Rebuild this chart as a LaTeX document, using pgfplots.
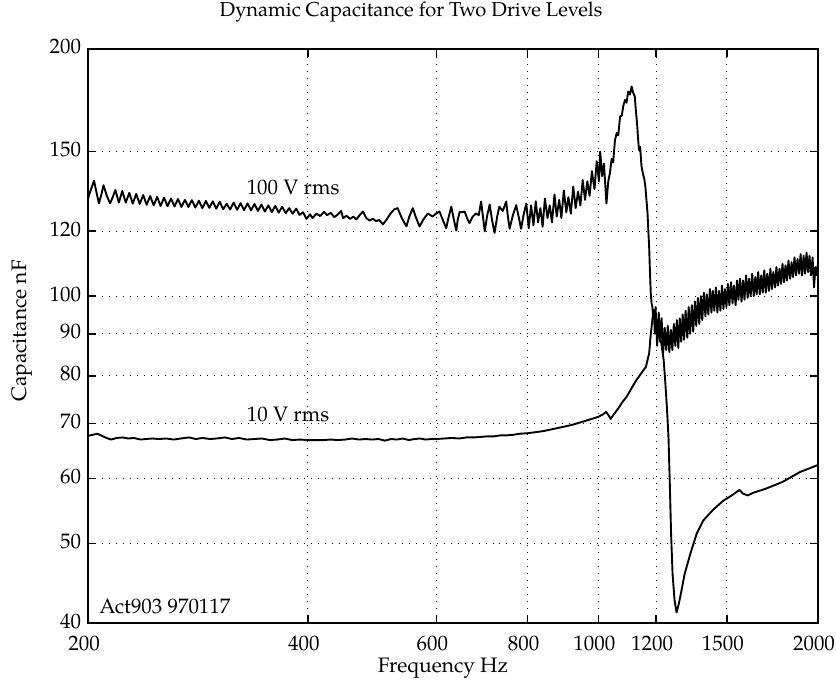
\documentclass[border=0pt]{standalone}
\usepackage{fontspec}
\setmainfont{TeX Gyre Pagella}
\usepackage{pgfplots}
\pgfplotsset{compat=1.18}
\newcommand{\lbl}{\fontsize{10.5}{12}\selectfont}
\begin{document}
\begin{tikzpicture}
\path[use as bounding box] (-44bp,-29bp) rectangle (374bp,311.5bp);
\begin{axis}[
  width=365bp, height=287bp, scale only axis,
  xmode=log, ymode=log,
  xmin=200, xmax=2000, ymin=40, ymax=200,
  xtick={200,400,600,800,1000,1200,1500,2000},
  xticklabels={200,400,600,800,1000,1200,1500,2000},
  ytick={40,50,60,70,80,90,100,120,150,200},
  yticklabels={40,50,60,70,80,90,100,120,150,200},
  minor xtick={}, minor ytick={},
  grid=major,
  major grid style={black, line width=0.5pt, dash pattern=on 0.5pt off 3pt},
  axis line style={line width=1pt},
  major tick length=4bp,
  tick style={black, line width=0.8pt},
  tick label style={font=\lbl},
  xticklabel style={xshift=-2bp, yshift=-3.2bp},
  yticklabel style={yshift=1pt},
]
% 100 V rms
\addplot[black, mark=none, line width=0.95pt, line join=round] coordinates {
(200,131.5)(201.9,135.0)(203.8,138.2)(205.5,133.5)(207.0,129.7)(208.6,133.0)(210.0,136.5)(212.2,132.5)(214.4,129.7)(216.2,132.0)(218.0,134.7)
(220.4,130.0)(222.8,134.3)(225.3,130.0)(227.8,133.6)(230.3,129.6)(232.8,133.2)(235.4,129.5)(238.0,132.8)(240.6,129.2)(243.3,132.4)
(246.0,129.0)(248.7,132.1)(251.4,128.8)(254.2,131.8)(257.0,128.7)(259.8,131.5)(262.7,128.6)(265.6,131.3)(268.5,128.4)(271.5,131.0)
(274.5,128.4)(277.5,130.9)(280.6,128.2)(283.7,130.7)(286.8,128.0)(290.0,130.6)(293.2,128.1)(296.4,130.5)(299.7,127.8)(303.0,130.3)
(306.3,127.6)(309.7,129.6)(313.1,127.5)(316.6,130.0)(320.1,127.4)(323.6,129.8)(327.2,127.3)(330.8,129.7)(334.4,127.2)(338.1,129.5)
(341.8,127.0)(345.6,129.3)(349.4,126.8)(353.2,129.0)(357.1,126.6)(361.0,128.8)(365.0,126.4)(369.0,128.5)(373.1,126.2)(377.2,128.0)
(381.4,126.0)(385.6,127.8)(389.8,125.6)(394.1,126.5)(398.5,124.2)(402.9,125.8)
(406,124.5)(411,126.0)(416,125.2)(421,126.7)(425,125.5)(430,126.3)(435,124.8)(440,125.8)(444.4,127.0)(447,124.5)
(452,125.3)(457,124.2)(462,125.0)(466,124.0)(471,125.5)(476,126.8)(481,124.5)(486,123.6)(491,124.3)(496,123.4)
(501,123.8)(507,122.3)(513,124.0)(519,126.0)(525,127.5)(531,128.0)(538,124.5)(546,121.6)(551,125.0)(557,128.0)
(563,124.5)(569,121.6)(576,124.0)(584,126.1)(593,125.0)(599,126.0)(606,126.8)(612,124.0)(619,121.0)(624,125.0)
(629,128.5)(634,124.0)(639,120.2)(642,124.0)(646,126.7)(651,126.5)(656,126.8)(661,124.5)(666,122.7)(673,125.0)
(680,126.1)(686,125.5)(691,130.4)(695,125.0)(699,119.9)(704,125.0)(710,129.3)(715,124.0)(721,119.4)(727,125.0)
(732,128.5)(740,127.0)(748,130.4)(752,125.0)(756,120.8)(764,125.5)(772,129.1)(778,125.0)(784,120.8)(790,125.5)
(797,129.7)
(803,121.0)(809,129.0)(815,122.0)(821,130.5)(827,123.0)(833,128.0)(839,121.5)(845,131.5)(852,124.5)(858,129.0)
(864,123.0)(871,133.0)(877,125.0)(884,131.0)(890,124.5)(897,134.5)(904,126.5)(910,132.0)(917,126.0)(924,136.0)
(931,128.0)(938,134.0)(945,129.0)(952,138.5)(959,131.0)(966,138.0)(973,132.5)(980,142.0)(988,135.0)(995,146.0)
(1002,138.0)(1006,150.0)(1012,140.0)(1018,145.0)(1026,129.7)(1032,138.0)(1037,141.0)(1043,147.0)(1048,145.5)(1054,154.9)
(1060,158.0)(1065,157.0)(1071,165.4)(1077,166.0)(1082,170.5)(1088,173.4)(1093,172.0)(1099,177.5)(1105,176.0)(1111,180.0)
(1116,177.0)(1122,175.0)(1126,168.0)(1130,162.4)(1134,155.0)(1137,150.6)(1141,152.0)(1146,144.0)(1151,141.0)(1156,139.0)
(1160,136.0)(1164,131.0)(1168,126.1)(1171,120.0)(1174,114.8)(1177,107.0)(1180,100.8)(1183,98.0)(1186,97.1)(1189,94.0)
(1192,96.0)(1195,90.0)
(1198,97.0)(1204,87.0)(1210,95.5)(1215,88.0)(1221,94.0)(1227,85.3)(1233,91.5)(1239,86.0)(1245,92.0)(1251,85.5)
(1257,91.0)(1263,86.0)(1269,92.5)(1275,87.0)(1281,93.5)(1287,86.5)(1293,94.0)(1299,88.0)(1305,95.0)(1311,88.5)
(1317,96.0)(1324,89.0)(1330,97.0)(1336,90.0)(1343,97.5)(1349,90.5)(1356,98.5)(1362,92.0)(1369,99.5)(1375,92.5)
(1382,100.0)(1388,93.5)(1395,101.0)(1402,94.5)(1408,100.5)(1415,95.0)(1422,102.0)(1429,95.5)(1435,101.5)(1442,96.0)
(1449,102.5)(1456,95.5)(1463,101.5)(1470,96.0)(1477,103.0)(1484,96.5)(1491,102.0)(1498,97.0)(1505,103.5)(1512,97.5)
(1520,104.0)(1527,98.0)(1534,103.0)(1542,97.5)(1549,104.5)(1556,99.0)(1564,105.0)(1571,98.5)(1579,104.5)(1586,99.0)
(1594,106.0)(1602,99.5)(1609,105.0)(1617,100.0)(1625,106.5)(1633,100.0)(1641,105.5)(1648,100.5)(1656,107.0)(1664,100.5)
(1672,106.0)(1680,101.0)(1688,107.5)(1696,101.0)(1704,106.5)(1713,101.5)(1721,108.0)(1729,102.0)(1737,107.0)(1746,102.5)
(1754,108.5)(1762,103.0)(1771,108.0)(1779,103.5)(1788,109.5)(1796,104.0)(1805,109.0)(1813,104.5)(1822,110.5)(1831,105.0)
(1840,110.0)(1848,105.5)(1857,111.5)(1866,106.0)(1875,111.0)(1884,106.5)(1893,112.5)(1902,106.0)(1911,112.0)(1920,106.5)
(1929,113.0)(1938,107.0)(1947,112.0)(1956,106.0)(1966,111.5)(1975,102.5)(1984,108.5)(1993,106.0)(2000,110.0)
};
% 10 V rms
\addplot[black, mark=none, line width=0.95pt, line join=round] coordinates {
(200,67.6)(203,67.8)(206,68.0)(209,67.6)(212,67.2)(215,66.9)(219,67.2)(223,67.3)(227,67.1)(231,67.2)
(236,66.9)(240,67.0)(245,67.1)(250,67.0)(256,67.1)(262,66.9)(268,67.1)(275,67.3)(281,67.0)(287,67.2)
(294,67.0)(300,67.1)(308,67.3)(315,67.0)(322,67.2)(330,66.9)(338,67.0)(346,67.1)(355,66.8)(363,66.9)
(372,67.1)(381,66.8)(390,66.9)(400,66.8)(410,66.8)(420,66.8)(430,66.9)(440,66.8)(450,66.9)(460,67.1)
(470,66.9)(480,67.0)(490,66.9)(500,67.0)(510,66.7)(520,67.0)(530,66.9)(540,67.1)(550,66.8)(560,67.0)
(570,67.1)(580,66.9)(590,67.0)(600,67.0)(615,67.1)(630,67.2)(645,67.1)(660,67.3)(675,67.3)(690,67.4)
(705,67.5)(720,67.5)(735,67.7)(750,67.7)(765,67.8)(780,68.0)(800,68.1)(820,68.3)(840,68.5)(860,68.8)
(880,69.1)(900,69.4)(920,69.7)(940,70.1)(960,70.5)(980,70.9)(1000,71.3)(1015,71.8)(1025,72.3)(1033,71.6)
(1040,70.9)(1050,71.8)(1065,73.0)(1080,74.4)(1093,75.4)(1110,77.2)(1125,78.8)(1140,80.1)(1150,81.0)(1162,82.0)
(1174,85.2)(1179,89.2)(1186,93.6)(1191,96.3)(1200,93.0)(1212,89.5)(1220,87.6)(1229,83.6)(1235,78.8)(1242,72.9)
(1248,67.1)(1253,59.1)(1258,51.4)(1264,45.9)(1272,42.6)(1280,41.2)(1289,42.2)(1300,43.8)(1313,45.9)(1338,48.7)
(1364,51.4)(1392,53.3)(1435,54.9)(1481,56.3)(1528,57.3)(1561,58.1)(1578,57.5)(1602,57.2)(1628,57.6)(1697,58.3)
(1788,59.4)(1891,61.1)(2000,62.3)
};
\node[font=\lbl] at (axis cs:382,135.5) {100 V rms};
\node[font=\lbl] at (axis cs:376,71.8) {10 V rms};
\node[font=\lbl, anchor=west, inner sep=0pt] at (axis cs:207,41.9) {Act903 970117};
\end{axis}
\node[font=\fontsize{10.1}{12}\selectfont] at (161.5bp,305.5bp) {Dynamic Capacitance for Two Drive Levels};
\node[font=\lbl] at (177.5bp,-22.5bp) {Frequency Hz};
\node[font=\lbl, rotate=90] at (-33bp,146bp) {Capacitance nF};
\end{tikzpicture}
\end{document}
